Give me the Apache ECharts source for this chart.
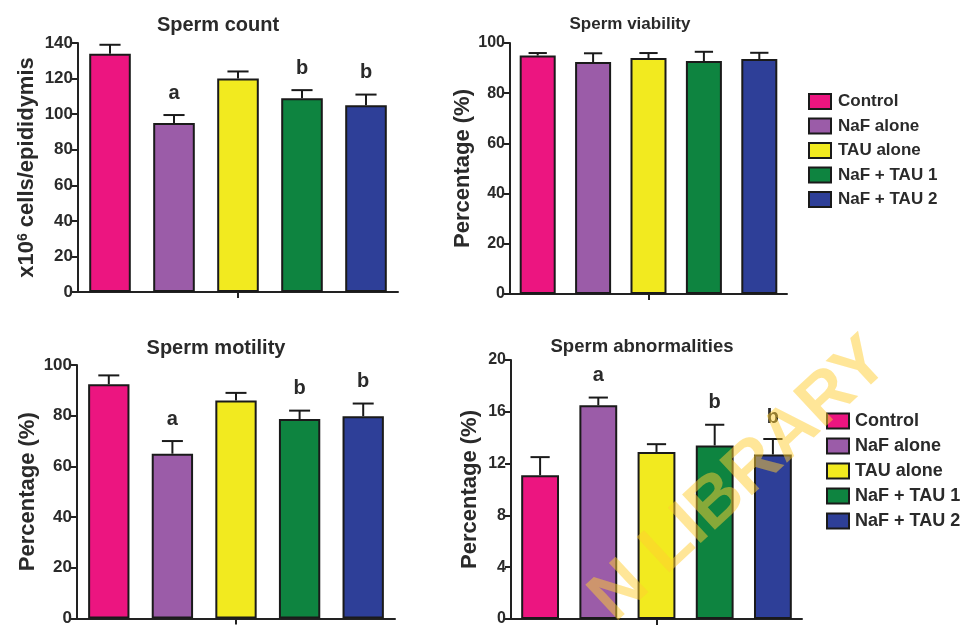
<!DOCTYPE html>
<html><head><meta charset="utf-8">
<script src="https://cdn.jsdelivr.net/npm/echarts@6/dist/echarts.min.js"></script>
<style>html,body{margin:0;padding:0;background:#fff}#c{width:969px;height:627px}</style>
</head><body><div id="c"></div>
<script>
var groups = ['Control', 'NaF alone', 'TAU alone', 'NaF + TAU 1', 'NaF + TAU 2'];
var colors = ['#EC1580', '#9B5CA8', '#F2EA1F', '#0E8440', '#2E3F98'];

var countVals = [134, 95, 120, 109, 105];
var countErr  = [5, 4.5, 4, 4.5, 6];
var countSig  = ['', 'a', '', 'b', 'b'];

var viabVals = [95, 92.4, 94, 92.8, 93.6];
var viabErr  = [1, 3.5, 2, 3.7, 2.5];
var viabSig  = ['', '', '', '', ''];

var motVals = [92.4, 65, 86, 78.7, 79.8];
var motErr  = [3.5, 5, 3, 3.3, 5];
var motSig  = ['', 'a', '', 'b', 'b'];

var abnVals = [11.1, 16.5, 12.9, 13.4, 12.7];
var abnErr  = [1.4, 0.6, 0.6, 1.6, 1.2];
var abnSig  = ['', 'a', '', 'b', 'b'];

var panelTitles = ['Sperm count', 'Sperm viability', 'Sperm motility', 'Sperm abnormalities'];
var yMax = [140, 100, 100, 20];
var yInterval = [20, 20, 20, 4];

var FONT = 'Liberation Sans, Arial, sans-serif';
var TXT = '#2a2a2a';
var AX = '#222';

var panels = [
  {vals: countVals, err: countErr, sig: countSig},
  {vals: viabVals, err: viabErr, sig: viabSig},
  {vals: motVals, err: motErr, sig: motSig},
  {vals: abnVals, err: abnErr, sig: abnSig}
];

var grids = [
  {left: 78, right: 571, top: 43, bottom: 335},
  {left: 510, right: 182, top: 43, bottom: 333},
  {left: 77, right: 574, top: 365, bottom: 8},
  {left: 511, right: 167, top: 360, bottom: 8}
];
var tickFont = [17, 16, 17, 16];
var nameGaps = [40, 32, 38, 30];
var titlePos = [[218, 25], [630, 24], [216, 348], [642, 347]];
var titleFont = [20, 17, 20, 18.5];
var yNames = ['{a|x10}{s|6}{a| cells/epididymis}', 'Percentage (%)', 'Percentage (%)', 'Percentage (%)'];

var xAxes = [], yAxes = [], series = [], graphics = [];
grids.forEach(function (g, p) {
  xAxes.push({
    type: 'category', gridIndex: p, data: groups, position: 'bottom',
    axisLine: {show: true, lineStyle: {color: AX, width: 2}},
    axisTick: {show: false}, axisLabel: {show: false}, splitLine: {show: false}
  });
  xAxes.push({
    type: 'category', gridIndex: p, data: [''], position: 'bottom',
    axisLine: {show: false},
    axisTick: {show: true, alignWithLabel: true, length: 6, lineStyle: {color: AX, width: 2}},
    axisLabel: {show: false}, splitLine: {show: false}
  });
  yAxes.push({
    type: 'value', gridIndex: p, min: 0, max: yMax[p], interval: yInterval[p],
    name: yNames[p], nameLocation: 'middle', nameGap: nameGaps[p],
    nameTextStyle: {
      fontFamily: FONT, fontWeight: 'bold', fontSize: 22, color: TXT,
      rich: {
        a: {fontFamily: FONT, fontWeight: 'bold', fontSize: 22, color: TXT},
        s: {fontFamily: FONT, fontWeight: 'bold', fontSize: 14, color: TXT, verticalAlign: 'top'}
      }
    },
    axisLine: {show: true, lineStyle: {color: AX, width: 2}},
    axisTick: {show: true, length: 6, lineStyle: {color: AX, width: 2}},
    axisLabel: {fontFamily: FONT, fontWeight: 'bold', fontSize: tickFont[p], color: TXT, margin: 5},
    splitLine: {show: false}
  });
  var pd = panels[p];
  groups.forEach(function (name, i) {
    var d = groups.map(function (_, j) { return j === i ? pd.vals[i] : '-'; });
    series.push({
      type: 'bar', name: name, xAxisIndex: p * 2, yAxisIndex: p, stack: 'p' + p,
      barWidth: '65%', data: d, silent: true,
      itemStyle: {color: colors[i], borderColor: '#1a1a1a', borderWidth: 2}
    });
  });
  series.push({
    type: 'custom', xAxisIndex: p * 2, yAxisIndex: p, silent: true, z: 5,
    data: pd.vals.map(function (v, i) { return [i, v, pd.err[i], pd.sig[i]]; }),
    dimensions: [{name: 'i', type: 'number'}, {name: 'v', type: 'number'}, {name: 'e', type: 'number'}, {name: 's', type: 'ordinal'}],
    encode: {x: 0, y: 1},
    renderItem: function (params, api) {
      var i = api.value(0), v = api.value(1), e = api.value(2);
      var base = api.coord([i, v]);
      var top = api.coord([i, v + e]);
      var half = api.size([1, 0])[0] * 0.165;
      var st = {stroke: '#1a1a1a', lineWidth: 2};
      var children = [
        {type: 'line', shape: {x1: base[0], y1: base[1], x2: top[0], y2: top[1]}, style: st},
        {type: 'line', shape: {x1: top[0] - half, y1: top[1], x2: top[0] + half, y2: top[1]}, style: st}
      ];
      var s = api.value(3);
      if (s && s !== '-') {
        children.push({type: 'text', x: top[0], y: top[1] - 22,
          style: {text: String(s), fontFamily: FONT, fontWeight: 'bold', fontSize: 20, fill: TXT,
                  align: 'center', verticalAlign: 'middle'}});
      }
      return {type: 'group', children: children};
    }
  });
  graphics.push({
    type: 'text', x: titlePos[p][0], y: titlePos[p][1], z: 10,
    style: {text: panelTitles[p], fontFamily: FONT, fontWeight: 'bold', fontSize: titleFont[p],
            fill: TXT, align: 'center', verticalAlign: 'middle'}
  });
});

graphics.push({
  type: 'text', x: 740, y: 480, rotation: 43 * Math.PI / 180, z: 100, silent: true,
  style: {text: 'N LIBRARY', fontFamily: FONT, fontWeight: 'bold', fontSize: 70,
          fill: 'rgba(255,205,50,0.5)', align: 'center', verticalAlign: 'middle'}
});

var legendBase = {
  orient: 'vertical', itemWidth: 22, itemHeight: 15, itemGap: 7.5,
  data: groups, selectedMode: false,
  itemStyle: {borderColor: '#1a1a1a', borderWidth: 2},
  icon: 'rect'
};
var legends = [
  Object.assign({}, legendBase, {left: 803, top: 88,
    textStyle: {fontFamily: FONT, fontWeight: 'bold', fontSize: 17, color: TXT, padding: [0, 0, 0, 2], lineHeight: 17}}),
  Object.assign({}, legendBase, {left: 821, top: 407, itemGap: 7,
    textStyle: {fontFamily: FONT, fontWeight: 'bold', fontSize: 18, color: TXT, padding: [0, 0, 0, 1], lineHeight: 18}})
];

var chart = echarts.init(document.getElementById('c'), null, {renderer: 'canvas'});
chart.setOption({
  animation: false,
  backgroundColor: '#fff',
  grid: grids,
  xAxis: xAxes,
  yAxis: yAxes,
  legend: legends,
  series: series,
  graphic: graphics
});
</script></body></html>
